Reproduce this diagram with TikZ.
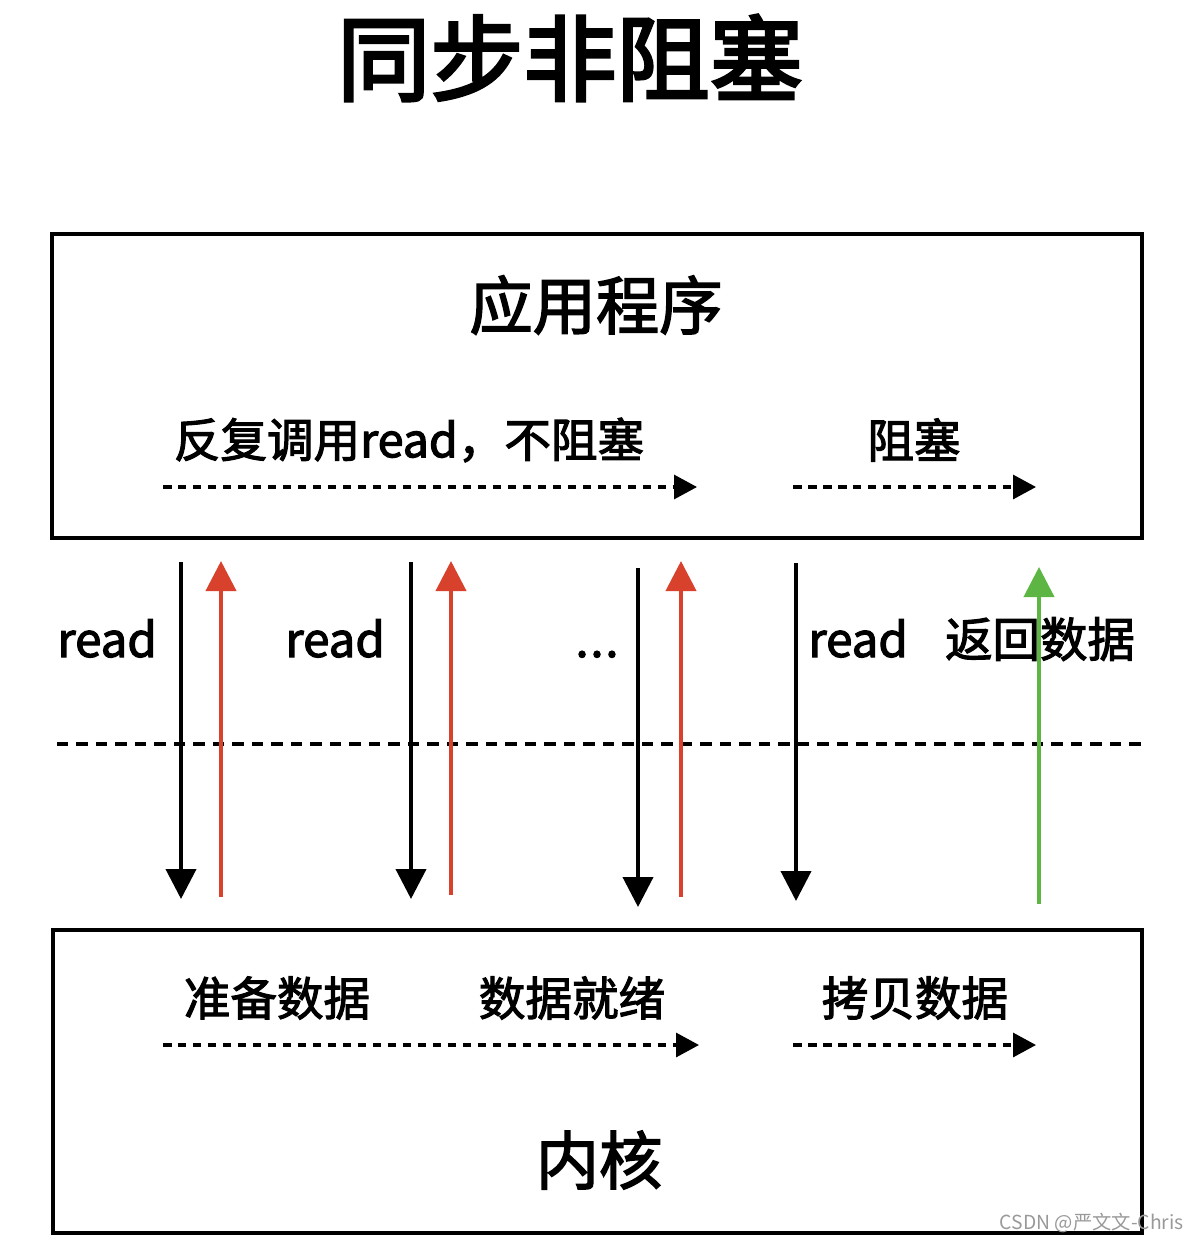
\documentclass[tikz,border=0pt]{standalone}
\usepackage{fontspec}
\setmainfont{Noto Sans CJK SC}
\newfontfamily\medfont{Noto Sans CJK SC}[FakeBold=2.4]
\newfontfamily\heavyfont{Noto Sans CJK SC}[FakeBold=3.2]
\usetikzlibrary{arrows.meta}
\definecolor{callred}{HTML}{D8412C}
\definecolor{backgreen}{HTML}{5DB543}

\begin{document}
\begin{tikzpicture}[
  x=0.02cm, y=-0.02cm,
  box/.style={draw, line width=0.08cm, minimum width=21.8cm, minimum height=6.07cm},
  title/.style={font=\fontsize{53}{60}\selectfont\heavyfont, inner sep=0pt},
  head/.style={font=\fontsize{36}{40}\selectfont\medfont, inner sep=0pt},
  label/.style={font=\fontsize{26.5}{30}\selectfont\medfont, inner sep=0pt},
  call/.style={font=\fontsize{27}{30}\selectfont\medfont, inner sep=0pt, anchor=base},
  phase/.style={draw, line width=0.065cm, dash pattern=on 0.17cm off 0.13cm,
                -{Triangle[length=0.46cm, width=0.48cm]}},
  down/.style={draw, line width=0.08cm, -{Triangle[length=0.6cm, width=0.6cm]}},
  up/.style={down, callred},
  back/.style={down, backgreen}
]
\useasboundingbox (0,0) rectangle (1188,1244);
% Nodes
\node[title] (ttl) at (570,58) {同步非阻塞};
\node[box] (app) at (597,386) {};
\node[box] (kern) at (597.5,1081.5) {};
\node[head] (appname) at (596,305) {应用程序};
\node[head] (kername) at (599,1160) {内核};
\node[label] (poll) at (409,440) {反复调用read，不阻塞};
\node[label] (blk) at (914,440) {阻塞};
\node[label] (prep) at (277,998) {准备数据};
\node[label] (ready) at (572,998) {数据就绪};
\node[label] (copy) at (915,998) {拷贝数据};
\node[call] (rd1) at (107,657) {read};
\node[call] (rd2) at (335,657) {read};
\node[call] (dots) at (597,657) {.\kern1pt.\kern1pt.};
\node[call] (rd4) at (858,657) {read};
\node[call] (ret) at (1040,657) {返回数据};
\node[font=\fontsize{11}{13}\selectfont, text=black!40, inner sep=0pt, anchor=east]
  (mark) at (1184,1223) {CSDN @严文文-Chris};
% Coordinates
\coordinate (p1) at (163,487); \coordinate (p2) at (697,487);
\coordinate (b1) at (793,487); \coordinate (b2) at (1036,487);
\coordinate (q1) at (163,1045); \coordinate (q2) at (699,1045);
\coordinate (c1) at (793,1045); \coordinate (c2) at (1036,1045);
\coordinate (m1) at (57,744); \coordinate (m2) at (1142,744);
\coordinate (d1t) at (181,562); \coordinate (d1b) at (181,899);
\coordinate (u1b) at (221,897); \coordinate (u1t) at (221,561);
\coordinate (d2t) at (411,562); \coordinate (d2b) at (411,899);
\coordinate (u2b) at (451,895); \coordinate (u2t) at (451,561);
\coordinate (d3t) at (638,568); \coordinate (d3b) at (638,907);
\coordinate (u3b) at (681,897); \coordinate (u3t) at (681,561);
\coordinate (d4t) at (796,563); \coordinate (d4b) at (796,901);
\coordinate (g1b) at (1039,904); \coordinate (g1t) at (1039,567);
% Edges
\path[phase] (p1) -- (p2);
\path[phase] (b1) -- (b2);
\path[phase] (q1) -- (q2);
\path[phase] (c1) -- (c2);
\draw[line width=0.07cm, dash pattern=on 0.23cm off 0.16cm] (m1) -- (m2);
\path[down] (d1t) -- (d1b);
\path[up] (u1b) -- (u1t);
\path[down] (d2t) -- (d2b);
\path[up] (u2b) -- (u2t);
\path[down] (d3t) -- (d3b);
\path[up] (u3b) -- (u3t);
\path[down] (d4t) -- (d4b);
\path[back] (g1b) -- (g1t);
\end{tikzpicture}
\end{document}
